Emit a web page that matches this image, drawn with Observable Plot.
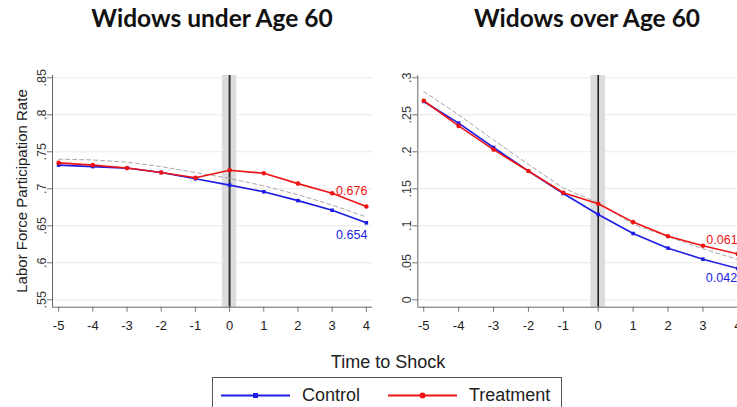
<!DOCTYPE html>
<html>
<head>
<meta charset="utf-8">
<script src="https://cdn.jsdelivr.net/npm/d3@7"></script>
<script src="https://cdn.jsdelivr.net/npm/@observablehq/plot@0.6"></script>
<style>
  html, body { margin: 0; padding: 0; background: #fff; }
  #chart { position: relative; width: 737px; height: 407px; overflow: hidden; background: #fff;
           font-family: "Liberation Sans", Arial, sans-serif; color: #222; }
  .title { position: absolute; top: 3px; font-family: Lato, "Open Sans", sans-serif; font-weight: 700;
           font-size: 24.5px; color: #111; transform: translateX(-50%); white-space: nowrap; }
  .panel { position: absolute; top: 60px; width: 380px; height: 290px; }
  .panel svg { overflow: visible; max-width: none !important; }
  .panel g[aria-label="x-axis tick"], .panel g[aria-label="y-axis tick"] { stroke: #777; }
  #xlabel { position: absolute; left: 388px; top: 352px; transform: translateX(-50%); font-size: 18px; white-space: nowrap; }
  #legend { position: absolute; left: 212px; top: 377px; width: 350px; height: 40px; border: 1px solid #555;
            box-sizing: border-box; background: #fff; }
  .item { position: absolute; top: 7px; display: flex; align-items: center; font-size: 18px; }
  .item svg { margin-right: 12px; }
</style>
</head>
<body>
<div id="chart">
  <div class="title" style="left:212px">Widows under Age 60</div>
  <div class="title" style="left:587px">Widows over Age 60</div>
  <div class="panel" id="left" style="left:0px"></div>
  <div class="panel" id="right" style="left:370px"></div>
  <div id="xlabel">Time to Shock</div>
  <div id="legend"></div>
</div>
<script>
// Years relative to the shock
const steps = [-5, -4, -3, -2, -1, 0, 1, 2, 3, 4];

// Widows under age 60: labor force participation
const controlUnder = [0.732, 0.730, 0.728, 0.722, 0.7135, 0.705, 0.696, 0.684, 0.671, 0.654];
const treatUnder   = [0.735, 0.732, 0.728, 0.722, 0.715, 0.725, 0.721, 0.707, 0.694, 0.676];
const trendUnder   = [0.740, 0.739, 0.736, 0.730, 0.722, 0.714, 0.704, 0.692, 0.678, 0.662];

// Widows over age 60: labor force participation
const controlOver = [0.268, 0.2387, 0.2058, 0.1738, 0.1437, 0.1153, 0.0896, 0.0698, 0.0549, 0.0423];
const treatOver   = [0.269, 0.235, 0.203, 0.174, 0.1446, 0.1297, 0.105, 0.0859, 0.073, 0.0619];
const trendOver   = [0.2815, 0.250, 0.216, 0.183, 0.151, 0.131, 0.102, 0.0855, 0.069, 0.0545];

// Y tick values per panel
const yTicksUnder = [0.55, 0.6, 0.65, 0.7, 0.75, 0.8, 0.85];
const yTicksOver  = [0, 0.05, 0.1, 0.15, 0.2, 0.25, 0.3];

const seriesNames = ["Control", "Treatment"];
const colors = {Control: "#1c1ce6", Treatment: "#ee1414"};

// Stata-style tick text: drop the leading zero
const fmtTick = d => d === 0 ? "0" : String(d).replace(/^0/, "");

function rows(values) {
  return steps.map((s, i) => ({x: s, y: values[i]}));
}

function panel({control, treat, trend, yTicks, yDomain, xDomain, width, marginLeft, marginRight,
                treatLabel, controlLabel, showYLabel}) {
  const c = rows(control), t = rows(treat), g = rows(trend);
  const last = steps.length - 1;
  const band = [{x1: -0.21, x2: 0.21}];
  return Plot.plot({
    width, height: 290,
    marginLeft, marginRight, marginTop: 15, marginBottom: 43.3,
    style: {fontSize: "13px", fontFamily: "'Liberation Sans', Arial, sans-serif", color: "#222", background: "transparent"},
    x: {domain: xDomain, ticks: steps, tickFormat: d => String(d), tickSize: 5, tickPadding: 9, label: null},
    y: {domain: yDomain, ticks: yTicks, tickFormat: () => "", tickSize: 5, tickPadding: 2, label: null},
    marks: [
      Plot.ruleY(yTicks, {stroke: "#e9e9e9", strokeWidth: 1}),
      Plot.rect(band, {x1: "x1", x2: "x2", fill: "#dcdcdc"}),
      Plot.ruleX([0], {stroke: showYLabel ? "#333" : "#111", strokeWidth: showYLabel ? 2 : 1.5}),
      Plot.line(g, {x: "x", y: "y", stroke: "#a8a8a8", strokeWidth: 1, strokeDasharray: "4,3"}),
      Plot.line(c, {x: "x", y: "y", stroke: colors.Control, strokeWidth: 1.6}),
      Plot.line(t, {x: "x", y: "y", stroke: colors.Treatment, strokeWidth: 1.6}),
      Plot.dot(c, {x: "x", y: "y", symbol: "square", r: 2, fill: colors.Control, stroke: "none"}),
      Plot.dot(t, {x: "x", y: "y", symbol: "circle", r: 2.3, fill: colors.Treatment, stroke: "none"}),
      Plot.text([t[last]], {x: "x", y: "y", text: d => String(d.y), fill: colors.Treatment,
        fontSize: 12.5, ...treatLabel}),
      Plot.text([c[last]], {x: "x", y: "y", text: d => String(d.y), fill: colors.Control,
        fontSize: 12.5, ...controlLabel}),
      // rotated y tick labels
      Plot.text(yTicks, {y: d => d, text: fmtTick, frameAnchor: "left", dx: -11, rotate: -90,
        textAnchor: "middle", lineAnchor: "middle", fontSize: 12.5, fill: "#333"}),
      Plot.ruleX([xDomain[0]], {stroke: "#666", strokeWidth: 1}),
      Plot.ruleY([yDomain[0]], {stroke: "#666", strokeWidth: 1})
    ]
  });
}

const leftPlot = panel({
  control: controlUnder, treat: treatUnder, trend: trendUnder,
  yTicks: yTicksUnder, yDomain: [0.54, 0.8531], xDomain: [-5.18, 4.18],
  width: 380, marginLeft: 52, marginRight: 8,
  treatLabel: {textAnchor: "end", dx: 1, dy: -16},
  controlLabel: {textAnchor: "end", dx: 1, dy: 12.5},
  showYLabel: true
});
document.getElementById("left").append(leftPlot);

const rightPlot = panel({
  control: controlOver, treat: treatOver, trend: trendOver,
  yTicks: yTicksOver, yDomain: [-0.01, 0.3031], xDomain: [-5.17, 4.18],
  width: 380, marginLeft: 47.3, marginRight: 6.4,
  treatLabel: {textAnchor: "start", dx: -31.5, dy: -13.5},
  controlLabel: {textAnchor: "start", dx: -32, dy: 9.5},
  showYLabel: false
});
document.getElementById("right").append(rightPlot);

// y-axis title on the left panel
const ns = "http://www.w3.org/2000/svg";
const yTitle = document.createElementNS(ns, "text");
yTitle.setAttribute("transform", "translate(21,131) rotate(-90)");
yTitle.setAttribute("text-anchor", "middle");
yTitle.setAttribute("dominant-baseline", "central");
yTitle.setAttribute("font-size", "15");
yTitle.setAttribute("fill", "#222");
yTitle.textContent = "Labor Force Participation Rate";
leftPlot.append(yTitle);

// legend
const legend = document.getElementById("legend");
const legendPos = {Control: 8, Treatment: 175};
for (const name of seriesNames) {
  const item = document.createElement("div");
  item.className = "item";
  item.style.left = legendPos[name] + "px";
  const marker = name === "Control"
    ? `<rect x="32" y="7" width="5" height="5" fill="${colors[name]}"/>`
    : `<circle cx="34.5" cy="9.5" r="3" fill="${colors[name]}"/>`;
  item.innerHTML = `<svg width="69" height="19"><line x1="0" x2="69" y1="9.5" y2="9.5" stroke="${colors[name]}" stroke-width="1.8"/>${marker}</svg><span>${name}</span>`;
  legend.append(item);
}
</script>
</body>
</html>
